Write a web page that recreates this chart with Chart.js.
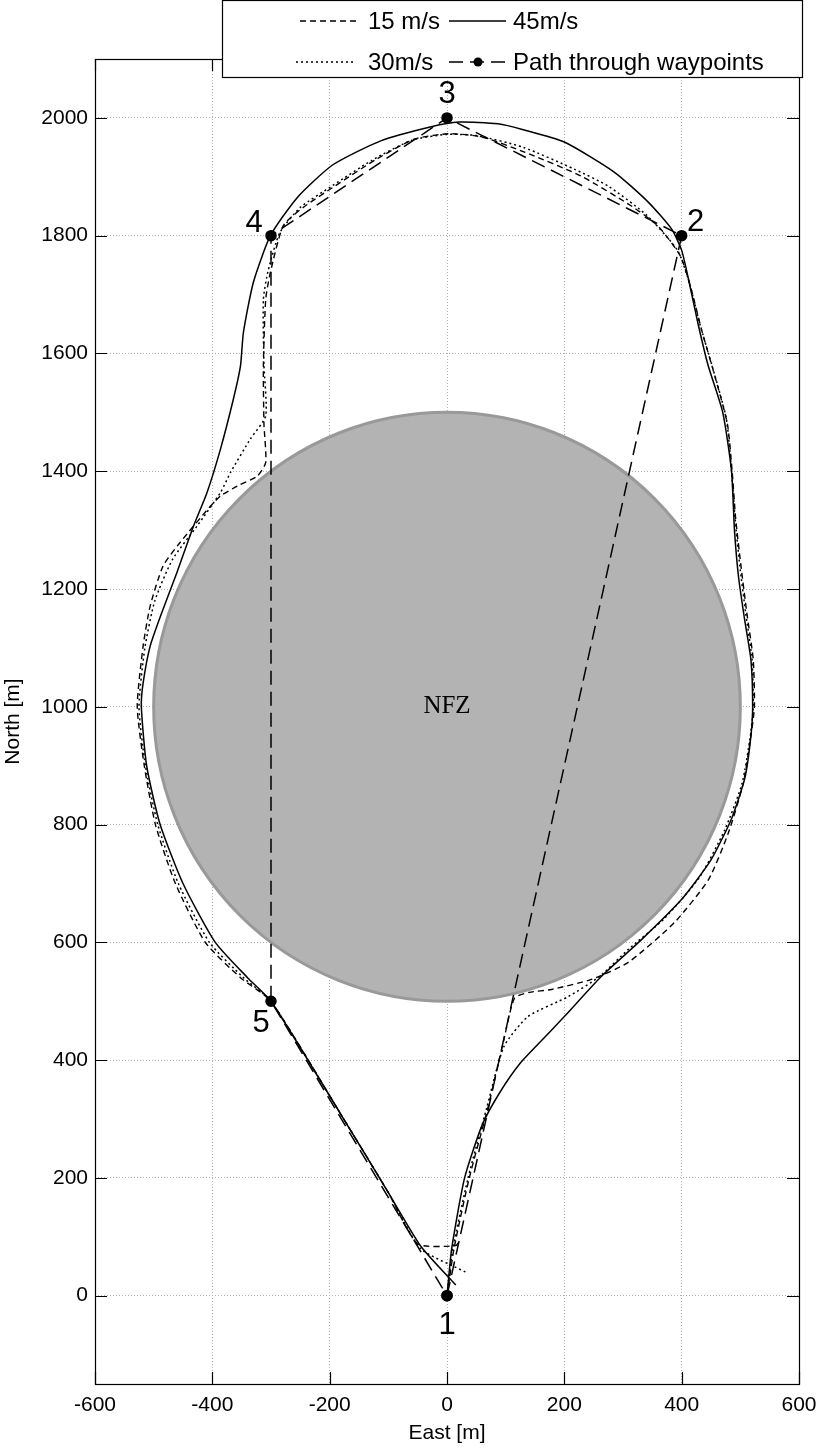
<!DOCTYPE html>
<html>
<head>
<meta charset="utf-8">
<script src="https://cdn.jsdelivr.net/npm/chart.js@4.4.1/dist/chart.umd.min.js"></script>
<style>
  html, body { margin: 0; padding: 0; background: #fff; }
</style>
</head>
<body>
<canvas id="trajChart" width="826" height="1450"></canvas>
<script>
// waypoints
var wpNames = ["1", "2", "3", "4", "5"];
var wpEast = [0, 400, 0, -300, -300];
var wpNorth = [0, 1800, 2000, 1800, 500];
var pathOrder = [0, 1, 2, 3, 4, 0];

// no fly zone
var nfzCenter = [0, 1000];
var nfzRadius = 500;

// trajectories, [east, north]
var traj15 = [
  [0, 0], [12, 80], [38, 200], [70, 320], [97, 435], [115, 505], [140, 515], [178, 520],
  [246, 537], [309, 566], [388, 634], [446, 707], [480, 787], [505, 870], [518, 950],
  [524, 1000], [522, 1080], [511, 1160], [501, 1240], [492, 1320], [486, 1400], [478, 1480],
  [457, 1560], [434, 1640], [416, 1710], [398, 1765], [360, 1816], [315, 1850], [229, 1901],
  [132, 1942], [58, 1968], [2, 1973], [-56, 1964], [-120, 1930], [-190, 1885], [-245, 1848],
  [-279, 1817], [-301, 1738], [-309, 1692], [-313, 1579], [-312, 1480], [-309, 1415],
  [-323, 1392], [-357, 1375], [-386, 1358], [-403, 1341], [-455, 1279], [-484, 1239],
  [-506, 1171], [-518, 1103], [-528, 1000], [-516, 900], [-497, 800], [-463, 700],
  [-412, 600], [-352, 540], [-300, 500], [-181, 308], [-100, 175], [-50, 88], [15, 85], [22, 95]
];
var traj30 = [
  [0, 0], [10, 80], [36, 200], [68, 320], [97, 423], [138, 474], [207, 508], [260, 542],
  [309, 588], [370, 640], [430, 710], [473, 790], [503, 870], [517, 950], [522, 1000],
  [520, 1080], [509, 1160], [499, 1240], [491, 1320], [485, 1400], [476, 1490], [453, 1575],
  [431, 1650], [413, 1720], [393, 1775], [340, 1835], [275, 1884], [217, 1913], [130, 1950],
  [50, 1970], [0, 1972], [-60, 1962], [-128, 1928], [-195, 1885], [-250, 1848], [-285, 1805],
  [-305, 1740], [-313, 1692], [-312, 1580], [-309, 1494], [-335, 1455], [-369, 1398],
  [-386, 1364], [-426, 1307], [-468, 1250], [-498, 1180], [-515, 1100], [-525, 1000],
  [-514, 900], [-493, 800], [-458, 700], [-405, 600], [-347, 540], [-300, 500], [-181, 308],
  [-100, 175], [-45, 80], [32, 40]
];
var traj45 = [
  [0, 0], [8, 80], [30, 200], [60, 290], [90, 345], [125, 395], [160, 432], [200, 474],
  [263, 542], [332, 605], [400, 673], [450, 740], [485, 810], [508, 880], [518, 950],
  [521, 1000], [518, 1080], [507, 1150], [497, 1220], [490, 1300], [485, 1400], [470, 1500],
  [445, 1580], [428, 1650], [413, 1720], [400, 1775], [383, 1811], [343, 1857], [285, 1908],
  [200, 1959], [130, 1980], [87, 1990], [20, 1993], [-27, 1985], [-113, 1961], [-195, 1920],
  [-255, 1865], [-301, 1800], [-330, 1721], [-347, 1636], [-352, 1579], [-364, 1523],
  [-386, 1438], [-409, 1364], [-432, 1307], [-460, 1229], [-488, 1155], [-506, 1103],
  [-518, 1040], [-521, 1000], [-512, 900], [-489, 800], [-450, 700], [-395, 600],
  [-340, 540], [-300, 500], [-181, 308], [-100, 175], [-44, 83], [15, 18]
];

var xTicks = [-600, -400, -200, 0, 200, 400, 600];
var yTicks = [0, 200, 400, 600, 800, 1000, 1200, 1400, 1600, 1800, 2000];

function toPoints(arr) {
  return arr.map(function (p) { return { x: p[0], y: p[1] }; });
}

var pathPoints = pathOrder.map(function (i) { return { x: wpEast[i], y: wpNorth[i] }; });

// grey no fly zone, drawn under the lines
var nfzPlugin = {
  id: "nfz",
  beforeDatasetsDraw: function (chart) {
    var ctx = chart.ctx, xs = chart.scales.x, ys = chart.scales.y;
    var cx = xs.getPixelForValue(nfzCenter[0]);
    var cy = ys.getPixelForValue(nfzCenter[1]);
    var rx = Math.abs(xs.getPixelForValue(nfzCenter[0] + nfzRadius) - cx);
    var ry = Math.abs(ys.getPixelForValue(nfzCenter[1] + nfzRadius) - cy);
    ctx.save();
    ctx.beginPath();
    ctx.ellipse(cx, cy, rx, ry, 0, 0, Math.PI * 2);
    ctx.fillStyle = "#b3b3b3";
    ctx.fill();
    ctx.lineWidth = 3;
    ctx.strokeStyle = "#999999";
    ctx.stroke();
    ctx.fillStyle = "#000";
    ctx.font = "25px 'Liberation Serif', 'Times New Roman', serif";
    ctx.textAlign = "center";
    ctx.textBaseline = "middle";
    ctx.fillText("NFZ", cx, cy);
    ctx.restore();
  }
};

// box round the axes, ticks pointing inwards, waypoint numbers
var framePlugin = {
  id: "frame",
  afterDatasetsDraw: function (chart) {
    var ctx = chart.ctx, a = chart.chartArea, xs = chart.scales.x, ys = chart.scales.y;
    var len = 12;
    ctx.save();
    ctx.strokeStyle = "#000";
    ctx.lineWidth = 1.2;
    ctx.beginPath();
    xTicks.forEach(function (v) {
      var px = Math.round(xs.getPixelForValue(v)) + 0.5;
      ctx.moveTo(px, a.bottom); ctx.lineTo(px, a.bottom - len);
      ctx.moveTo(px, a.top); ctx.lineTo(px, a.top + len);
    });
    yTicks.forEach(function (v) {
      var py = Math.round(ys.getPixelForValue(v)) + 0.5;
      ctx.moveTo(a.left, py); ctx.lineTo(a.left + len, py);
      ctx.moveTo(a.right, py); ctx.lineTo(a.right - len, py);
    });
    ctx.stroke();
    ctx.strokeRect(Math.round(a.left) + 0.5, Math.round(a.top) + 0.5, Math.round(a.width), Math.round(a.height));

    var offs = [[0, 29], [14, -14], [0, -24], [-17, -13], [-10, 21]];
    ctx.fillStyle = "#000";
    ctx.font = "31px 'Liberation Sans', Arial, sans-serif";
    ctx.textAlign = "center";
    ctx.textBaseline = "middle";
    wpNames.forEach(function (name, i) {
      var px = xs.getPixelForValue(wpEast[i]);
      var py = ys.getPixelForValue(wpNorth[i]);
      ctx.fillText(name, px + offs[i][0], py + offs[i][1] + 1);
    });
    ctx.restore();
  }
};

// boxed two column legend sitting over the top of the axes
var legendPlugin = {
  id: "boxLegend",
  afterDraw: function (chart) {
    var ctx = chart.ctx;
    var slots = [
      { ds: 0, x: 300, tx: 368, y: 21 },
      { ds: 2, x: 449, tx: 513, y: 21 },
      { ds: 1, x: 296, tx: 368, y: 62 },
      { ds: 3, x: 449, tx: 513, y: 62 }
    ];
    ctx.save();
    ctx.fillStyle = "#fff";
    ctx.fillRect(222, 0, 580, 78);
    ctx.strokeStyle = "#000";
    ctx.lineWidth = 1.2;
    ctx.strokeRect(222.5, 0.5, 580, 77);
    ctx.font = "24px 'Liberation Sans', Arial, sans-serif";
    ctx.textAlign = "left";
    ctx.textBaseline = "middle";
    slots.forEach(function (s) {
      var ds = chart.data.datasets[s.ds];
      ctx.beginPath();
      ctx.setLineDash(ds.borderDash || []);
      ctx.lineWidth = ds.borderWidth;
      ctx.strokeStyle = "#000";
      ctx.moveTo(s.x, s.y);
      ctx.lineTo(s.x + 57, s.y);
      ctx.stroke();
      ctx.setLineDash([]);
      if (ds.legendDot) {
        ctx.beginPath();
        ctx.arc(s.x + 29, s.y, 4.5, 0, Math.PI * 2);
        ctx.fillStyle = "#000";
        ctx.fill();
      }
      ctx.fillStyle = "#000";
      ctx.fillText(ds.label, s.tx, s.y + 1);
    });
    ctx.restore();
  }
};

var ctx = document.getElementById("trajChart");
var config = {
  type: "scatter",
  data: {
    datasets: [
      {
        label: "15 m/s",
        data: toPoints(traj15),
        showLine: true,
        borderColor: "#000",
        borderWidth: 1.4,
        borderDash: [6, 4],
        tension: 0.2,
        pointRadius: 0
      },
      {
        label: "30m/s",
        data: toPoints(traj30),
        showLine: true,
        borderColor: "#000",
        borderWidth: 1.5,
        borderDash: [2, 3],
        tension: 0.2,
        pointRadius: 0
      },
      {
        label: "45m/s",
        data: toPoints(traj45),
        showLine: true,
        borderColor: "#000",
        borderWidth: 1.5,
        tension: 0.2,
        pointRadius: 0
      },
      {
        label: "Path through waypoints",
        data: pathPoints,
        showLine: true,
        borderColor: "#000",
        borderWidth: 1.5,
        borderDash: [14, 7],
        pointRadius: 5,
        pointBackgroundColor: "#000",
        pointBorderColor: "#000",
        legendDot: true
      }
    ]
  },
  options: {
    responsive: false,
    animation: false,
    layout: {
      padding: { top: 59, right: 27, left: 0, bottom: 0 }
    },
    plugins: {
      legend: { display: false },
      tooltip: { enabled: false }
    },
    scales: {
      x: {
        type: "linear",
        min: -600,
        max: 600,
        afterBuildTicks: function (s) {
          s.ticks = xTicks.map(function (v) { return { value: v }; });
        },
        afterFit: function (s) { s.height = 66; },
        grid: { color: "#b0b0b0", lineWidth: 1, drawTicks: false },
        border: { display: false, dash: [1, 2] },
        ticks: {
          padding: 9,
          color: "#000",
          autoSkip: false,
          maxRotation: 0,
          font: { size: 21 },
          callback: function (v) { return String(v); }
        },
        title: {
          display: true,
          text: "East [m]",
          color: "#000",
          font: { size: 21 },
          padding: { top: 4, bottom: 4 }
        }
      },
      y: {
        type: "linear",
        min: -150,
        max: 2100,
        afterBuildTicks: function (s) {
          s.ticks = yTicks.map(function (v) { return { value: v }; });
        },
        afterFit: function (s) { s.width = 95; },
        grid: { color: "#b0b0b0", lineWidth: 1, drawTicks: false },
        border: { display: false, dash: [1, 2] },
        ticks: {
          padding: 7,
          color: "#000",
          autoSkip: false,
          font: { size: 21 },
          callback: function (v) { return String(v); }
        },
        title: {
          display: true,
          text: "North [m]",
          color: "#000",
          font: { size: 21 },
          padding: { top: 1, bottom: 1 }
        }
      }
    }
  },
  plugins: [nfzPlugin, framePlugin, legendPlugin]
};

Chart.defaults.font.family = "'Liberation Sans', Arial, sans-serif";
var trajChart = new Chart(ctx, config);
</script>
</body>
</html>
